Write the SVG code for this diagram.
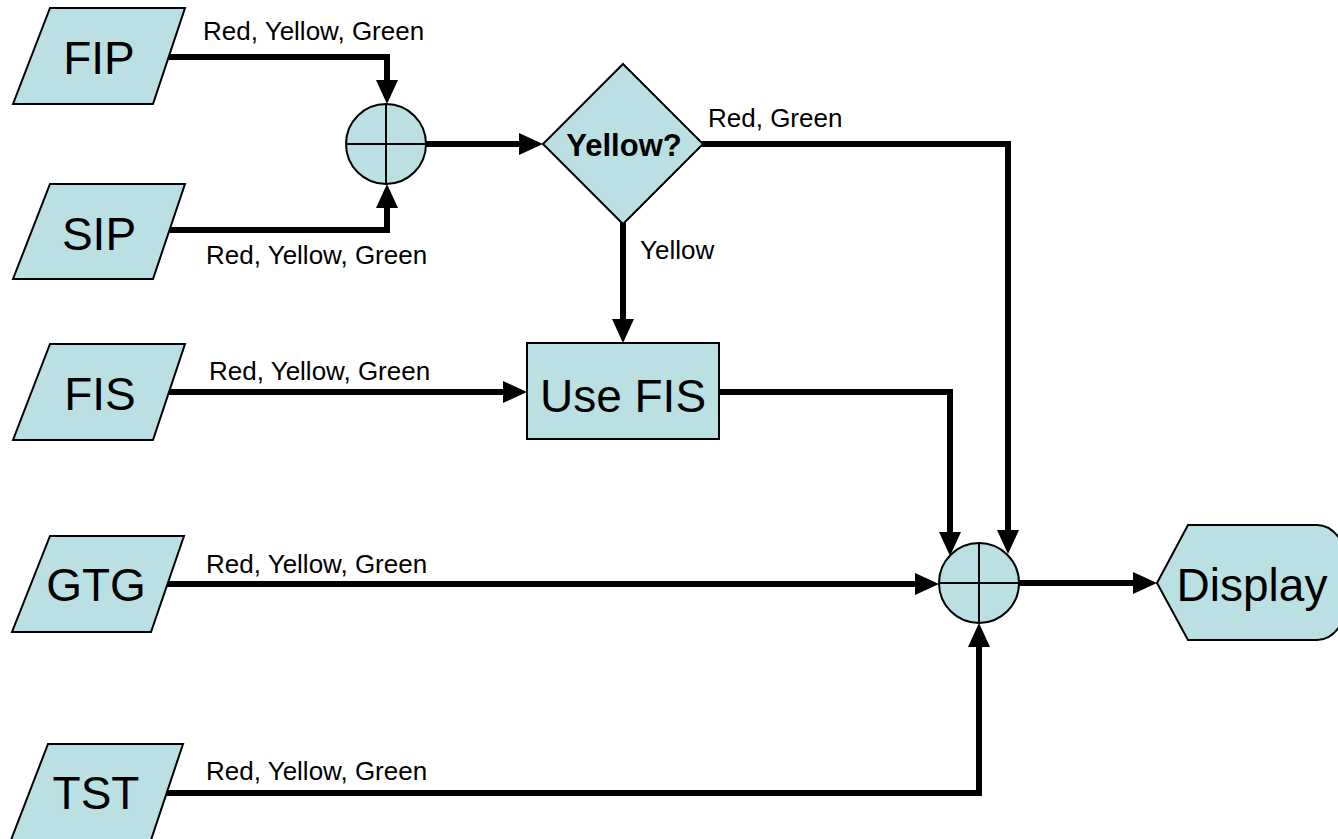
<svg xmlns="http://www.w3.org/2000/svg" width="1338" height="839" viewBox="0 0 1338 839">
<style>
.shape{fill:#BBE0E3;stroke:#000;stroke-width:2;stroke-linejoin:miter}
.thin{stroke:#000;stroke-width:2;fill:none}
.conn{fill:none;stroke:#000;stroke-width:6;stroke-linejoin:miter}
.big{font-family:"Liberation Sans",Arial,sans-serif;font-size:46px;fill:#000;text-anchor:middle}
.lbl{font-family:"Liberation Sans",Arial,sans-serif;font-size:26px;fill:#000}
.bold{font-family:"Liberation Sans",Arial,sans-serif;font-size:31px;font-weight:bold;fill:#000;text-anchor:middle}
</style>
<defs>
<marker id="arr" markerUnits="userSpaceOnUse" markerWidth="24" markerHeight="22" refX="4" refY="11" orient="auto">
<path d="M0,0 L24,11 L0,22 Z" fill="#000"/>
</marker>
</defs>
<rect width="1338" height="839" fill="#fff"/>
<g id="connectors">
<path class="conn" d="M169,57 H387 V84" marker-end="url(#arr)"/>
<path class="conn" d="M169,230 H387 V204" marker-end="url(#arr)"/>
<path class="conn" d="M426,144 H523" marker-end="url(#arr)"/>
<path class="conn" d="M702,144 H1008 V534" marker-end="url(#arr)"/>
<path class="conn" d="M623,223 V323" marker-end="url(#arr)"/>
<path class="conn" d="M169,392 H507" marker-end="url(#arr)"/>
<path class="conn" d="M719,392 H950 V536" marker-end="url(#arr)"/>
<path class="conn" d="M166,584 H919" marker-end="url(#arr)"/>
<path class="conn" d="M167,793 H979 V643" marker-end="url(#arr)"/>
<path class="conn" d="M1019,583 H1137" marker-end="url(#arr)"/>
<text class="lbl" x="203" y="40">Red, Yellow, Green</text>
<text class="lbl" x="206" y="264">Red, Yellow, Green</text>
<text class="lbl" x="708" y="127">Red, Green</text>
<text class="lbl" x="640" y="259">Yellow</text>
<text class="lbl" x="209" y="380">Red, Yellow, Green</text>
<text class="lbl" x="206" y="573">Red, Yellow, Green</text>
<text class="lbl" x="206" y="780">Red, Yellow, Green</text>
</g>
<g id="FIP">
<polygon class="shape" points="50,8 185,8 153,104 13,104"/>
<text class="big" x="99" y="74">FIP</text>
</g>
<g id="SIP">
<polygon class="shape" points="50,184 185,184 153,279 13,279"/>
<text class="big" x="99" y="250">SIP</text>
</g>
<g id="FIS">
<polygon class="shape" points="50,344 185,344 153,440 13,440"/>
<text class="big" x="100" y="410">FIS</text>
</g>
<g id="GTG">
<polygon class="shape" points="50,536 184,536 151,632 12,632"/>
<text class="big" x="96" y="601">GTG</text>
</g>
<g id="TST">
<polygon class="shape" points="48,744 183,744 151,840 11,840"/>
<text class="big" x="96" y="809">TST</text>
</g>
<g id="sum1">
<circle class="shape" cx="386" cy="144" r="40"/>
<line class="thin" x1="346" y1="144" x2="426" y2="144"/>
<line class="thin" x1="386" y1="104" x2="386" y2="184"/>
</g>
<g id="decision">
<polygon class="shape" points="623,64 703,144 623,224 543,144"/>
<text class="bold" x="624" y="156">Yellow?</text>
</g>
<g id="usefis">
<rect class="shape" x="527" y="343" width="192" height="96"/>
<text class="big" x="623" y="412">Use FIS</text>
</g>
<g id="sum2">
<circle class="shape" cx="979" cy="583" r="40"/>
<line class="thin" x1="939" y1="583" x2="1019" y2="583"/>
<line class="thin" x1="979" y1="543" x2="979" y2="623"/>
</g>
<g id="display">
<path class="shape" d="M1157,583 L1188,525 L1317,525 A35,57.5 0 0 1 1317,640 L1188,640 Z"/>
<text class="big" x="1252" y="601">Display</text>
</g>
</svg>
